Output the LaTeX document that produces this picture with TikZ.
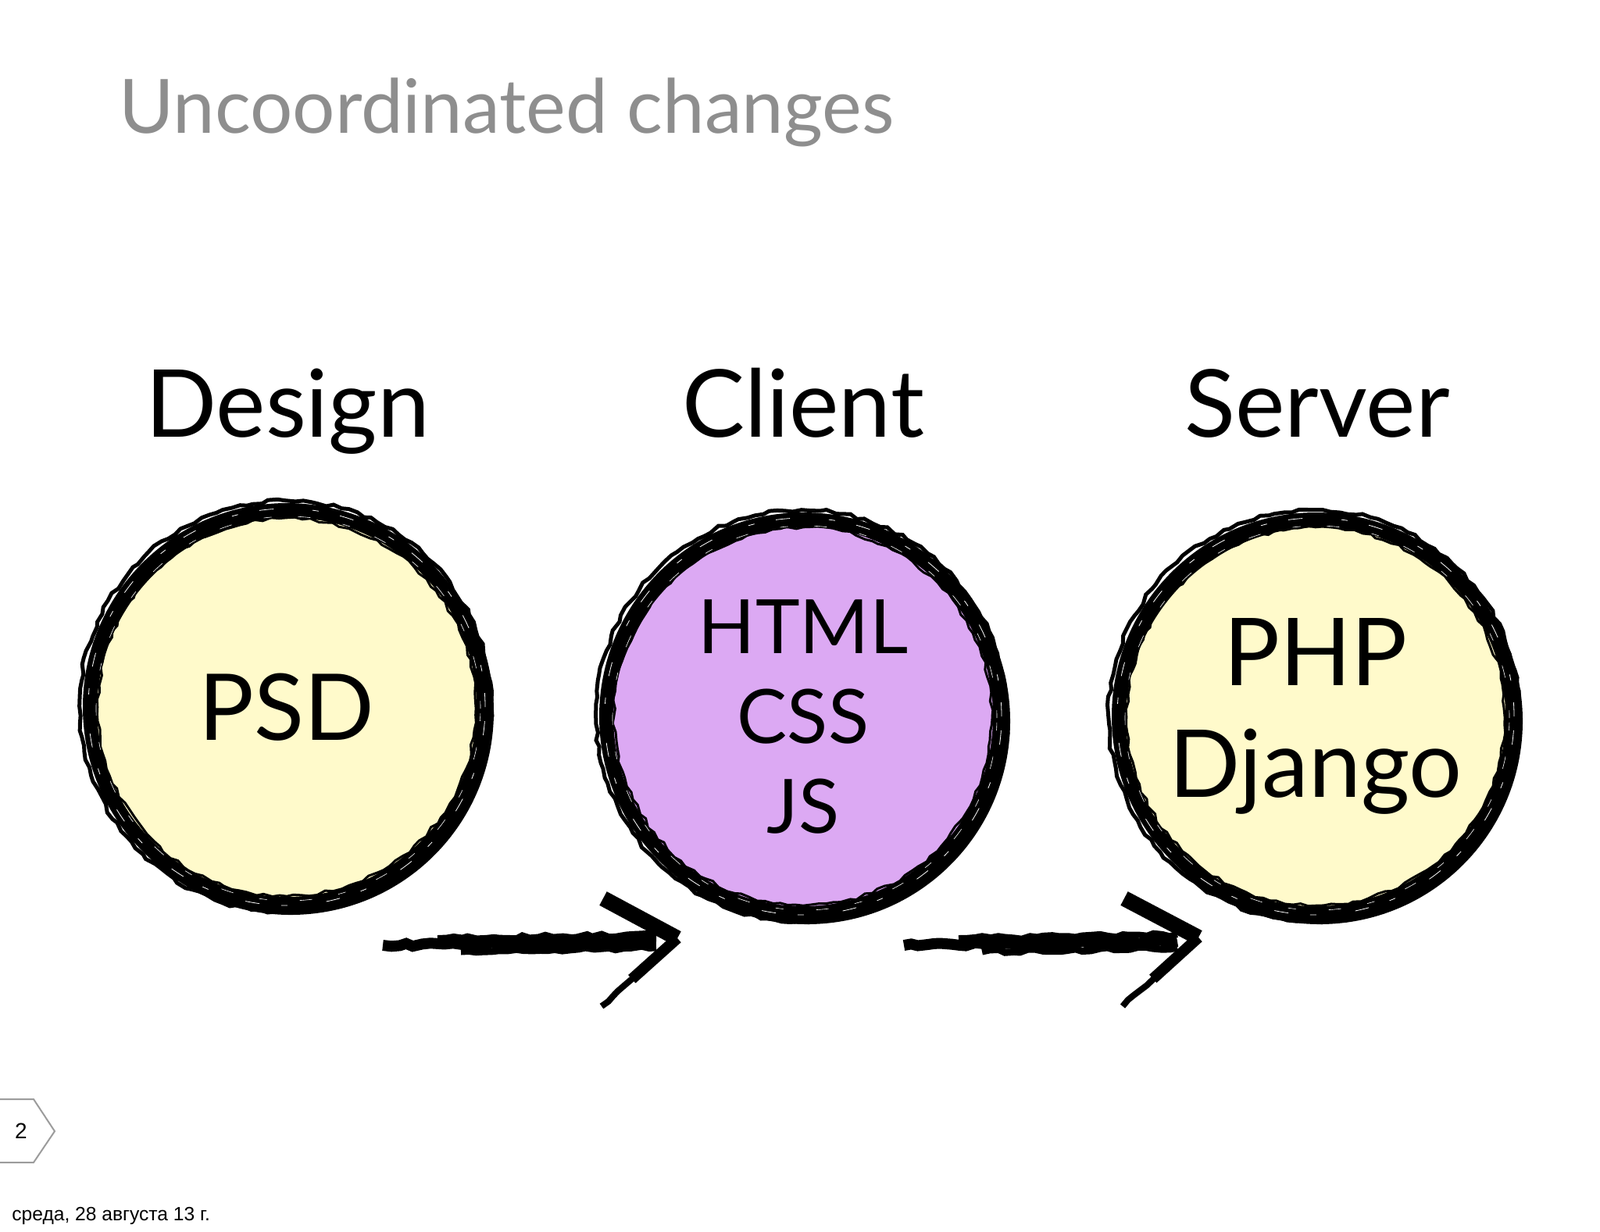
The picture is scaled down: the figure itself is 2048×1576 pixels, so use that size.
\documentclass[tikz,border=0pt]{standalone}
\usepackage{fontspec}
\setmainfont{Lato}
\newfontfamily\helvfont{Liberation Sans}
\usetikzlibrary{positioning,calc,decorations.pathmorphing}

\definecolor{titlegray}{HTML}{8E8E8E}
\definecolor{markgray}{HTML}{9C9C9C}
\definecolor{psdyellow}{HTML}{FFFACB}
\definecolor{clientpurple}{HTML}{DCA9F3}

\tikzset{
  bubble/.style={circle, minimum size=252pt, inner sep=0pt, draw=black, line width=9pt, align=center},
  brush/.style={line width=#1, decorate, decoration={random steps, segment length=5pt, amplitude=1.1pt}},
  heading/.style={anchor=base, inner sep=0pt, font=\fontsize{60}{62}\selectfont},
}

\begin{document}
\begin{tikzpicture}[x=0.5pt,y=-0.5pt]
  \useasboundingbox[fill=white] (0,0) rectangle (2048,1576);

  % 标题
  \node[anchor=base west, inner sep=0pt, text=titlegray, font=\fontsize{48}{50}\selectfont] (title) at (152,170) {Uncoordinated changes};

  % 三个圆
  \node[bubble, fill=psdyellow, font=\fontsize{59}{60}\selectfont] (psd) at (367,905) {PSD};
  \node[bubble, fill=clientpurple, font=\fontsize{48}{57.5}\selectfont] (web) at (1028,917) {HTML\\CSS\\JS};
  \node[bubble, fill=psdyellow, font=\fontsize{60}{71.5}\selectfont] (backend) at (1684,917) {PHP\\Django};

  \foreach \n in {psd,web,backend} {
    \draw[line width=6pt] ([shift={(2.5pt,-3pt)}]\n.center) circle [radius=127pt];
    \draw[brush=2.5pt] ([shift={(-1pt,0.5pt)}]\n.center) circle [radius=131.5pt];
    \draw[brush=1.5pt] (\n.center) circle [radius=121pt];
    \draw[white, line width=0.4pt, dash pattern=on 9pt off 14pt on 4pt off 25pt] (\n.center) circle [radius=127pt];
    \draw[white, line width=0.3pt, dash pattern=on 5pt off 21pt on 8pt off 17pt] ([shift={(1pt,-1pt)}]\n.center) circle [radius=123pt];
  }

  % 标签
  \node[heading] (design) at (368,559) {Design};
  \node[heading] (client) at (1028,559) {Client};
  \node[heading] (server) at (1686,559) {Server};

  % 箭头
  \coordinate (a1s) at (490,1210);
  \coordinate (a1e) at (840,1205);
  \coordinate (a1t) at (867,1201);
  \coordinate (a1u) at (772,1150);
  \coordinate (a1d) at (770,1288);
  \draw[brush=7pt] (a1s) -- (a1e);
  \draw[brush=4pt] ([xshift=35pt,yshift=4.5pt]a1s) -- ([yshift=4.5pt]a1e);
  \draw[brush=4.5pt] ([xshift=50pt,yshift=-4pt]a1s) -- ([yshift=-4pt]a1e);
  \draw[line width=10pt] (a1u) -- (a1t);
  \draw[line width=7pt] (a1t) -- ($(a1t)!0.6!(a1d)$);
  \draw[brush=4pt] (a1d) -- (a1t);

  \coordinate (a2s) at (1157,1210);
  \coordinate (a2e) at (1507,1205);
  \coordinate (a2t) at (1534,1200);
  \coordinate (a2u) at (1439,1150);
  \coordinate (a2d) at (1437,1288);
  \draw[brush=7pt] (a2s) -- (a2e);
  \draw[brush=4pt] ([xshift=35pt,yshift=4.5pt]a2s) -- ([yshift=4.5pt]a2e);
  \draw[brush=4.5pt] ([xshift=50pt,yshift=-4pt]a2s) -- ([yshift=-4pt]a2e);
  \draw[line width=10pt] (a2u) -- (a2t);
  \draw[line width=7pt] (a2t) -- ($(a2t)!0.6!(a2d)$);
  \draw[brush=4pt] (a2d) -- (a2t);

  % 页码和日期
  \draw[markgray, line width=1pt] (-5,1407) -- (43,1407) -- (70,1448) -- (43,1488) -- (-5,1488);
  \node[font=\helvfont\fontsize{14}{14}\selectfont] (pagenum) at (27,1448) {2};
  \node[anchor=base west, inner sep=0pt, font=\helvfont\fontsize{12.3}{14}\selectfont] (date) at (15,1562) {среда, 28 августа 13 г.};
\end{tikzpicture}
\end{document}
